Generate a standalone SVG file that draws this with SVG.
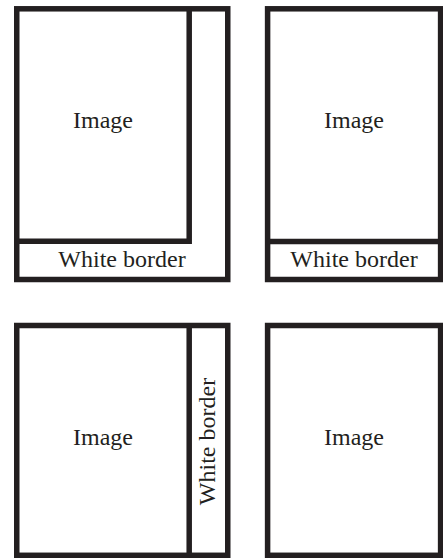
<svg xmlns="http://www.w3.org/2000/svg" width="443" height="558" viewBox="0 0 443 558">
<style>
.frame{fill:none;stroke:#231f20;stroke-width:5.5;stroke-linejoin:miter}
.lbl{font-family:"Liberation Serif","Times New Roman",serif;font-size:24px;fill:#231f20;text-anchor:middle}
</style>
<rect width="443" height="558" fill="#ffffff"/>
<g id="panel1">
<rect class="frame" x="16.75" y="8.8" width="211" height="270.7"/>
<polyline class="frame" points="189.2,8.8 189.2,241.2 16.75,241.2"/>
<text class="lbl" x="103" y="128">Image</text>
<text class="lbl" x="122" y="267">White border</text>
</g>
<g id="panel2">
<rect class="frame" x="267.6" y="8.8" width="173" height="270.7"/>
<line class="frame" x1="267.6" y1="241.5" x2="440.6" y2="241.5"/>
<text class="lbl" x="354" y="128">Image</text>
<text class="lbl" x="354" y="267">White border</text>
</g>
<g id="panel3">
<rect class="frame" x="16.75" y="325.5" width="211" height="229.8"/>
<line class="frame" x1="189.2" y1="325.5" x2="189.2" y2="555.3"/>
<text class="lbl" x="103" y="445">Image</text>
<text class="lbl" transform="translate(215,441.5) rotate(-90)" x="0" y="0">White border</text>
</g>
<g id="panel4">
<rect class="frame" x="267.6" y="325.5" width="173" height="229.8"/>
<text class="lbl" x="354" y="445">Image</text>
</g>
<g id="connectors"/>
</svg>
